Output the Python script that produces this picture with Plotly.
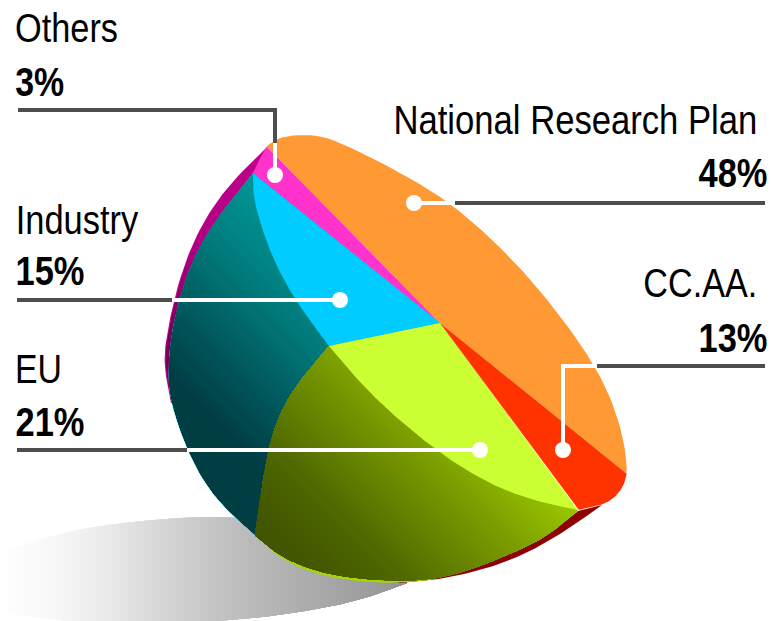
import json
import numpy as np
import plotly.graph_objects as go

# ---- data -------------------------------------------------------------
CATEGORIES = ["National Research Plan", "Others", "Industry", "EU", "CC.AA."]
VALUES = [48, 3, 15, 21, 13]
COLORS = ["#ff9933", "#ff33cc", "#00ccff", "#ccff33", "#ff3300"]

# ---- perspective geometry of the drawn solid (picture space) ----------
CENTER = (440, 323)
# polar angle of the rim reached at each cumulative share: the drawing's perspective
WARP_SHARE = [0, 48, 51, 66, 87, 100]
WARP_ANGLE = [38.9, -134.5, -141.3, -191.7, -306.4, -321.1]
RIM_ORANGE = [(627, 472), (627, 460), (623, 433), (613, 400), (597, 367), (573, 333), (547, 298), (517, 263),
              (483, 230), (450, 202), (427, 188), (393, 168), (360, 152)]
RIM_TIP = [(360, 152), (327, 138), (303, 135), (280, 138), (267, 146)]
RIM_MAGENTA = [(267, 146), (253, 173)]
RIM_CYAN = [(253, 173), (253, 190), (257, 213), (273, 260), (297, 303), (329, 346)]
RIM_LIME = [(329, 346), (353, 375), (387, 410), (433, 448), (470, 473), (520, 498), (578, 510)]
RIM_RED = [(578, 510), (602, 505), (615, 497), (624, 485), (627, 472)]

BOWL = [(253, 173), (213, 223), (188, 270), (172, 327), (168, 373), (171, 403), (187, 450), (213, 497), (255, 535),
        (283, 558), (323, 573), (363, 579), (400, 581), (443, 578), (483, 565), (533, 544), (557, 528), (578, 511)]
SEAM = [(255, 535), (262, 487), (270, 443), (283, 407), (303, 377), (329, 346)]
LIME_OUT = [(255, 535), (283, 561), (323, 576), (363, 582), (400, 583), (430, 580)]
RED_OUT = [(400, 583), (443, 579), (493, 567), (533, 550), (567, 530), (602, 505)]
MAG_OUT = [(267, 147), (217, 197), (183, 263), (167, 333), (164, 360), (167, 383), (171, 403)]
SHADOW_TOP = [(-30, 565), (0, 553), (60, 533), (130, 522), (225, 516), (300, 530), (407, 583)]
SHADOW_BOT = [(407, 583), (360, 600), (300, 612), (225, 621), (100, 624), (0, 613), (-30, 600)]

LEADERS = [
    ([(18, 110), (275, 110), (275, 143)], [(275, 143), (275, 175)]),
    ([(765, 203), (455, 203)], [(455, 203), (414, 203)]),
    ([(765, 366), (597, 366)], [(597, 366), (563, 366), (563, 450)]),
    ([(17, 300), (172, 300)], [(172, 300), (340, 300)]),
    ([(17, 450), (187, 450)], [(187, 450), (480, 450)]),
]
# text, left, right, vertical middle, bold
LABELS = [
    ("Others", 15, 118, 28, False), ("3%", 15, 64, 82, True),
    ("National Research Plan", 393, 757, 120, False), ("48%", 698, 767, 173, True),
    ("CC.AA.", 643, 757, 283, False), ("13%", 698, 767, 338, True),
    ("Industry", 15, 138, 220, False), ("15%", 15, 84, 271, True),
    ("EU", 15, 62, 369, False), ("21%", 15, 84, 422, True),
]
FONT = "Liberation Sans, Arial, sans-serif"


def smooth(pts, n=12, iters=40):
    p = np.array(pts, float)
    if len(p) < 3:
        return p
    q = np.vstack([2 * p[0] - p[1], p, 2 * p[-1] - p[-2]])
    out = []
    for i in range(1, len(q) - 2):
        for t in np.linspace(0, 1, n, endpoint=False):
            a, b, c, d = q[i - 1], q[i], q[i + 1], q[i + 2]
            out.append(0.5 * (2 * b + (c - a) * t + (2 * a - 5 * b + 4 * c - d) * t ** 2 + (3 * b - a - 3 * c + d) * t ** 3))
    out.append(p[-1])
    c = np.array(out)
    for _ in range(iters):
        c[1:-1] = 0.25 * c[:-2] + 0.5 * c[1:-1] + 0.25 * c[2:]
    return c


def clip(poly, d, s0):
    res = []
    vals = poly @ d - s0
    for i in range(len(poly)):
        j = (i + 1) % len(poly)
        if vals[i] >= 0:
            res.append(poly[i])
        if (vals[i] >= 0) != (vals[j] >= 0):
            res.append(poly[i] + (poly[j] - poly[i]) * vals[i] / (vals[i] - vals[j]))
    return np.array(res) if len(res) > 2 else None


fig = go.Figure()


def fill(poly, color):
    poly = np.asarray(poly)
    fig.add_trace(go.Scatter(x=np.r_[poly[:, 0], poly[0, 0]], y=np.r_[poly[:, 1], poly[0, 1]], mode="lines",
                             fill="toself", fillcolor=color, line=dict(width=0), hoverinfo="skip"))


def gradient(poly, d, stops, step):
    d = np.array(d, float)
    s_vals = [s for s, _ in stops]
    col = np.array([c for _, c in stops], float)
    for s in np.arange(s_vals[0], s_vals[-1] + step, step):
        rgb = [int(round(np.interp(s, s_vals, col[:, k]))) for k in range(3)]
        part = poly if s == s_vals[0] else clip(poly, d, s)
        if part is not None:
            fill(part, f"rgb({rgb[0]},{rgb[1]},{rgb[2]})")


bowl = smooth(BOWL, iters=50)
split = int(np.argmin(np.hypot(bowl[:, 0] - SEAM[0][0], bowl[:, 1] - SEAM[0][1])))
teal_out, bottom = bowl[:split + 1], bowl[split:]
seam = smooth(SEAM)
seam[0] = bowl[split]

# shadow
shadow = np.vstack([smooth(SHADOW_TOP), smooth(SHADOW_BOT)[1:]])
gradient(shadow, (1, 0), [(0, (254, 254, 254)), (50, (248, 248, 248)), (100, (235, 235, 235)), (170, (210, 210, 210)),
                          (230, (190, 190, 190)), (330, (165, 165, 165)), (400, (148, 148, 148))], 8)

# rims
fill(np.vstack([smooth(RED_OUT, iters=60), bottom[::-1]]), "#8f0000")
fill(np.vstack([smooth(LIME_OUT, iters=60), bottom[::-1]]), "#a6d600")
inner_up = teal_out[teal_out[:, 1] <= 403][::-1]
mag_out = smooth(MAG_OUT, iters=60)
fill(np.vstack([mag_out, inner_up]), "#c2008e")
gradient(np.vstack([mag_out + [1.5, 0], inner_up]), (-0.7, 0.7),
         [(-60, (190, 0, 140)), (30, (176, 0, 130)), (110, (120, 0, 90))], 6)

# body
fill(np.vstack([teal_out, seam[1:], [CENTER]]), "#00b8b8")
gradient(np.vstack([teal_out + [0.8, -0.4], seam[1:], [CENTER]]), (-0.7, 0.7),
         [(-50, (0, 148, 148)), (14, (0, 125, 125)), (140, (0, 62, 68)), (200, (0, 62, 68))], 5)
gradient(np.vstack([bottom, [CENTER], seam[::-1]]), (-0.7, 0.7),
         [(-40, (150, 195, 0)), (15, (125, 160, 0)), (120, (80, 105, 0)), (180, (66, 85, 0)), (240, (66, 85, 0))], 4)

# top face: slices from the values
rim = np.vstack([smooth(RIM_ORANGE, iters=200), smooth(RIM_TIP, iters=10)[1:], smooth(RIM_MAGENTA)[1:],
                 smooth(RIM_CYAN, iters=60)[1:], smooth(RIM_LIME, iters=80)[1:], smooth(RIM_RED)[1:]])
cx, cy = CENTER
rim_ang = np.degrees(np.unwrap(np.arctan2(rim[:, 1] - cy, rim[:, 0] - cx)))
rim_r = np.hypot(rim[:, 0] - cx, rim[:, 1] - cy)
cum = np.r_[0, np.cumsum(VALUES)] * 100.0 / sum(VALUES)
bounds = np.interp(cum, WARP_SHARE, WARP_ANGLE)
for k, color in enumerate(COLORS):
    th = np.linspace(bounds[k], bounds[k + 1], 160)
    r = np.interp(-th, -rim_ang, rim_r)
    t = np.radians(th)
    fill(np.vstack([[CENTER], np.c_[cx + r * np.cos(t), cy + r * np.sin(t)]]), color)

# leaders
for grey, white in LEADERS:
    g, w = np.array(grey), np.array(white)
    fig.add_trace(go.Scatter(x=g[:, 0], y=g[:, 1], mode="lines", line=dict(color="#4d4d4d", width=4), hoverinfo="skip"))
    fig.add_trace(go.Scatter(x=w[:, 0], y=w[:, 1], mode="lines", line=dict(color="white", width=4), hoverinfo="skip"))
    fig.add_trace(go.Scatter(x=[w[-1, 0]], y=[w[-1, 1]], mode="markers", marker=dict(color="white", size=16), hoverinfo="skip"))

annotations = [dict(x=(lo + hi) / 2, y=ym, text=txt, xanchor="center", yanchor="middle", showarrow=False,
                    xref="x", yref="y",
                    font=dict(family=FONT, size=41, color="black", weight="bold" if bold else "normal"))
               for txt, lo, hi, ym, bold in LABELS]

fig.update_layout(
    width=771, height=621, margin=dict(l=0, r=0, t=0, b=0), showlegend=False,
    paper_bgcolor="white", plot_bgcolor="white", annotations=annotations,
    xaxis=dict(range=[0, 771], visible=False, fixedrange=True),
    yaxis=dict(range=[621, 0], visible=False, fixedrange=True),
)
widths = {txt: hi - lo for txt, lo, hi, _, _ in LABELS}
post = ("document.body.style.margin='0';var W=" + json.dumps(widths) + ";"
        "document.querySelectorAll('.annotation-text').forEach(function(t){var w=W[t.textContent];"
        "if(w){var b=t.getBBox(),k=w/b.width,c=b.x+b.width/2;"
        "t.setAttribute('transform','translate('+c+',0) scale('+k+',1) translate('+(-c)+',0)');}});")
fig.write_html("out.html", post_script=post, config=dict(displayModeBar=False))
